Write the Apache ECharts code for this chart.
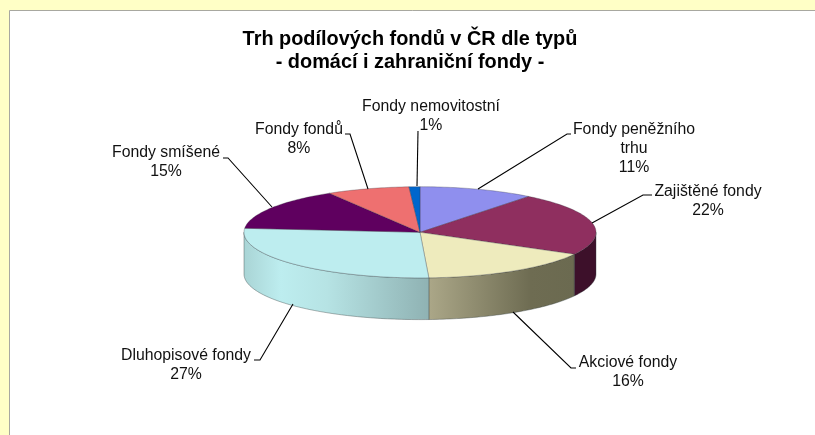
<!DOCTYPE html>
<html>
<head>
<meta charset="utf-8">
<style>html,body{margin:0;padding:0;background:#fff}#c{width:815px;height:435px}</style>
<script src="https://cdn.jsdelivr.net/npm/echarts@6/dist/echarts.min.js"></script>
</head>
<body>
<div id="c"></div>
<script>
const titleLines = ['Trh podílových fondů v ČR dle typů', '- domácí i zahraniční fondy -'];
const categories = ['Fondy peněžního\ntrhu', 'Zajištěné fondy', 'Akciové fondy', 'Dluhopisové fondy', 'Fondy smíšené', 'Fondy fondů', 'Fondy nemovitostní'];
const values = [10.6, 22.4, 16.2, 27.2, 15.0, 7.6, 1.0];
const topColors = ['#8F8FEE', '#8F2F5F', '#EEEBBD', '#BDEDEF', '#5F005F', '#EE7070', '#0066CC'];
const wallStops = [
  null,
  [[0, '#3D102A'], [1, '#3D102A']],
  [[0, '#ABA788'], [0.7, '#6E6C52'], [1, '#6B6A50']],
  [[0, '#A9D4D5'], [0.2, '#BDEDEF'], [0.45, '#B6E3E4'], [1, '#8FB2B3']],
  null, null, null
];
// label centres and leader polylines for each category
const labelPos = [[634, 148.5], [708, 201], [628, 372.5], [186, 365], [166, 162.5], [299, 139], [431, 116]];
const leaders = [
  [[478, 189], [567, 134], [571, 134]],
  [[592, 223], [643, 195], [652, 195]],
  [[513, 312], [571, 368], [576, 368]],
  [[293, 304], [260, 360], [254, 360]],
  [[272, 207], [228, 158], [223, 158]],
  [[368, 189], [350, 134], [345, 134]],
  [[417, 186], [418, 131]]
];
const pie = { cx: 420, cy: 232.3, rx: 176, ry: 45.6, depth: 41.7 };

const total = values.reduce((a, b) => a + b, 0);
const cum = [0];
values.forEach(v => cum.push(cum[cum.length - 1] + v));
const toAngle = v => v / total * 2 * Math.PI;
const pt = (t, dy) => [pie.cx + pie.rx * Math.sin(t), pie.cy - pie.ry * Math.cos(t) + (dy || 0)];
function arc(t0, t1, dy) {
  const n = Math.max(2, Math.ceil((t1 - t0) / 0.02));
  const out = [];
  for (let i = 0; i <= n; i++) out.push(pt(t0 + (t1 - t0) * i / n, dy));
  return out;
}
function renderItem(params) {
  const i = params.dataIndex;
  const t0 = toAngle(cum[i]), t1 = toAngle(cum[i + 1]);
  const children = [];
  const a = Math.max(t0, Math.PI / 2), b = Math.min(t1, 3 * Math.PI / 2);
  if (b > a && wallStops[i]) {
    const pts = arc(a, b, 0).concat(arc(a, b, pie.depth).reverse());
    children.push({
      type: 'polygon',
      shape: { points: pts },
      style: {
        fill: new echarts.graphic.LinearGradient(0, 0, 1, 0,
          wallStops[i].map(s => ({ offset: s[0], color: s[1] }))),
        stroke: 'rgba(50,60,60,0.55)', lineWidth: 0.7
      }
    });
  }
  children.push({
    type: 'polygon',
    shape: { points: [[pie.cx, pie.cy]].concat(arc(t0, t1, 0)) },
    style: { fill: topColors[i], stroke: 'rgba(50,50,60,0.5)', lineWidth: 0.6 }
  });
  children.push({
    type: 'polyline',
    shape: { points: leaders[i] },
    style: { fill: 'none', stroke: '#000', lineWidth: 1.1 }
  });
  children.push({
    type: 'text',
    style: {
      text: categories[i] + '\n' + Math.round(values[i] / total * 100) + '%',
      x: labelPos[i][0], y: labelPos[i][1],
      align: 'center', verticalAlign: 'middle',
      font: '15.8px "Liberation Sans", Arial, sans-serif',
      lineHeight: 19, fill: '#111'
    }
  });
  return { type: 'group', children };
}
const chart = echarts.init(document.getElementById('c'), null, { renderer: 'canvas' });
chart.setOption({
  animation: false,
  backgroundColor: '#FFFFC6',
  graphic: [{
    type: 'rect', z: 0, silent: true,
    shape: { x: 9.5, y: 10.5, width: 830, height: 450 },
    style: { fill: '#fff', stroke: '#A8A8A0', lineWidth: 1 }
  }],
  title: {
    text: titleLines.join('\n'),
    left: 405, top: 23, textAlign: 'center', z: 5,
    textStyle: { fontFamily: '"Liberation Sans", Arial, sans-serif', fontWeight: 'bold', fontSize: 19.9, lineHeight: 23, color: '#000' }
  },
  series: [{
    type: 'custom',
    coordinateSystem: 'none',
    renderItem,
    z: 3,
    data: values
  }]
});
</script>
</body>
</html>
